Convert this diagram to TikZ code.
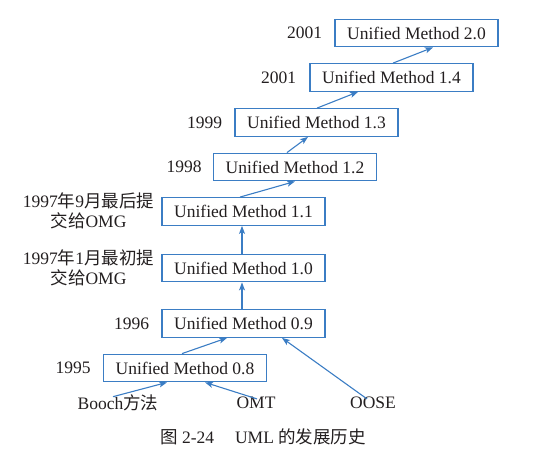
\documentclass[tikz,border=0pt]{standalone}
\usepackage{fontspec}
\setmainfont{Liberation Serif}
\newfontfamily\cjk{Noto Sans CJK SC}
\usetikzlibrary{arrows.meta}
\definecolor{boxblue}{HTML}{3B7DC4}
\definecolor{ink}{HTML}{231F20}
\begin{document}
\begin{tikzpicture}[x=1pt,y=-1pt,
  every node/.style={text=ink,font=\fontsize{17.5}{20}\selectfont,inner sep=0pt},
  umbox/.style={draw=boxblue,line width=1.3pt,minimum width=163pt,minimum height=27.5pt},
  yearlbl/.style={anchor=east},
  conn/.style={draw=boxblue,line width=1.1pt,-{Stealth[length=8pt,width=6pt,inset=2pt]}}]
\useasboundingbox (0,0) rectangle (538,471);
% boxes
\node[umbox] (b20) at (416.5,33) {Unified Method 2.0};
\node[umbox] (b14) at (391.5,77.5) {Unified Method 1.4};
\node[umbox] (b13) at (316.5,122.5) {Unified Method 1.3};
\node[umbox] (b12) at (295,167) {Unified Method 1.2};
\node[umbox] (b11) at (243.5,211.5) {Unified Method 1.1};
\node[umbox] (b10) at (243.5,268) {Unified Method 1.0};
\node[umbox] (b09) at (243.5,323.5) {Unified Method 0.9};
\node[umbox] (b08) at (185,368) {Unified Method 0.8};
% labels
\node[yearlbl] (l20) at ([xshift=-12pt]b20.west) {2001};
\node[yearlbl] (l14) at ([xshift=-13pt]b14.west) {2001};
\node[yearlbl] (l13) at ([xshift=-12pt]b13.west) {1999};
\node[yearlbl] (l12) at ([xshift=-11pt]b12.west) {1998};
\node[yearlbl,align=center] (l11) at ([xshift=-7pt,yshift=0.5pt]b11.west) {1997{\cjk 年}9{\cjk 月最后提}\\{\cjk 交给}OMG};
\node[yearlbl,align=center] (l10) at ([xshift=-7pt,yshift=0.5pt]b10.west) {1997{\cjk 年}1{\cjk 月最初提}\\{\cjk 交给}OMG};
\node[yearlbl] (l09) at ([xshift=-12pt]b09.west) {1996};
\node[yearlbl] (l08) at ([xshift=-12pt]b08.west) {1995};
% sources
\node (booch) at (118,403) {Booch{\cjk 方法}};
\node (omt) at (256,403) {OMT};
\node (oose) at (373,403) {OOSE};
% caption
\node[font=\fontsize{17.5}{20}\selectfont] (cap) at (263,437) {{\cjk 图} 2-24\hspace{1.2em}UML {\cjk 的发展历史}};
% connectors
\draw[conn] ([xshift=1.5pt]b14.north) -- ([xshift=16.5pt]b20.south);
\draw[conn] ([xshift=0.5pt]b13.north) -- ([xshift=-33.5pt]b14.south);
\draw[conn] ([xshift=-8pt]b12.north) -- ([xshift=-8.5pt]b13.south);
\draw[conn] ([xshift=-3.5pt]b11.north) -- (b12.south);
\draw[conn] ([xshift=-1.5pt]b10.north) -- ([xshift=-1.5pt]b11.south);
\draw[conn] ([xshift=-1.5pt]b09.north) -- ([xshift=-1.5pt]b10.south);
\draw[conn] ([xshift=-3pt]b08.north) -- ([xshift=-16.5pt]b09.south);
\draw[conn] ([xshift=-6pt,yshift=-2pt]oose.north) -- ([xshift=38.5pt]b09.south);
\draw[conn] ([xshift=-5pt,yshift=-2pt]booch.north) -- ([xshift=-18pt]b08.south);
\draw[conn] ([xshift=1pt,yshift=-2pt]omt.north) -- ([xshift=20pt]b08.south);
\end{tikzpicture}
\end{document}
